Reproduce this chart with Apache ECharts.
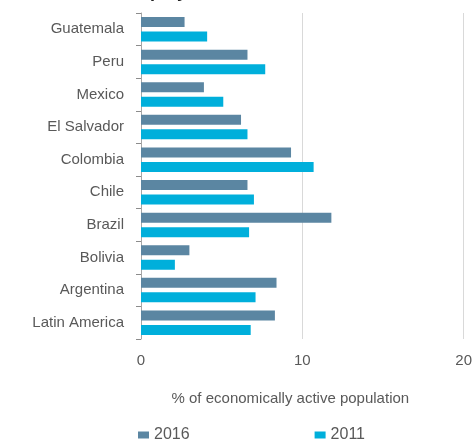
<!DOCTYPE html>
<html>
<head>
<meta charset="utf-8">
<script src="https://cdn.jsdelivr.net/npm/echarts@6/dist/echarts.min.js"></script>
<style>
  html, body { margin: 0; padding: 0; background: #fff; }
  #chart { width: 475px; height: 442px; }
</style>
</head>
<body>
<div id="chart"></div>
<script>
// countries from top to bottom
var countries = ['Guatemala', 'Peru', 'Mexico', 'El Salvador', 'Colombia', 'Chile', 'Brazil', 'Bolivia', 'Argentina', 'Latin America'];
var val2016 = [2.7, 6.6, 3.9, 6.2, 9.3, 6.6, 11.8, 3.0, 8.4, 8.3];
var val2011 = [4.1, 7.7, 5.1, 6.6, 10.7, 7.0, 6.7, 2.1, 7.1, 6.8];
var xTicks = [0, 10, 20];

var myChart = echarts.init(document.getElementById('chart'));

var option = {
    animation: false,
    textStyle: { fontFamily: 'Liberation Sans' },
    title: {
        text: 'Unemployment',
        left: 95,
        top: -22,
        textStyle: { fontSize: 18, fontWeight: 'bold', color: '#222' }
    },
    legend: {
        data: ['2016', '2011'],
        left: 133,
        top: 422,
        itemWidth: 11,
        itemHeight: 7,
        itemGap: 125,
        icon: 'rect',
        textStyle: { fontSize: 16, color: '#595959' }
    },
    grid: { left: 141, right: 11, top: 13, bottom: 103 },
    xAxis: {
        type: 'value',
        min: xTicks[0],
        max: xTicks[xTicks.length - 1],
        interval: 10,
        axisLine: { show: false },
        axisTick: { show: false },
        splitLine: { lineStyle: { color: '#d9d9d9', width: 1 } },
        axisLabel: { fontSize: 15, color: '#595959', margin: 14 },
        name: '% of economically active population',
        nameLocation: 'middle',
        nameGap: 52,
        nameTextStyle: { fontSize: 15, color: '#595959', padding: [0, 24, 0, 0] }
    },
    yAxis: {
        type: 'category',
        data: countries,
        inverse: true,
        axisLine: { lineStyle: { color: '#a6a6a6' } },
        axisTick: { show: true, length: 5, lineStyle: { color: '#8c8c8c' } },
        axisLabel: { fontSize: 15, color: '#595959', margin: 17 }
    },
    series: [
        {
            name: '2016',
            type: 'bar',
            data: val2016,
            barWidth: 10,
            barGap: '45%',
            itemStyle: { color: '#5b86a2' }
        },
        {
            name: '2011',
            type: 'bar',
            data: val2011,
            barWidth: 10,
            barGap: '45%',
            itemStyle: { color: '#00afdb' }
        }
    ]
};

myChart.setOption(option);
</script>
</body>
</html>
